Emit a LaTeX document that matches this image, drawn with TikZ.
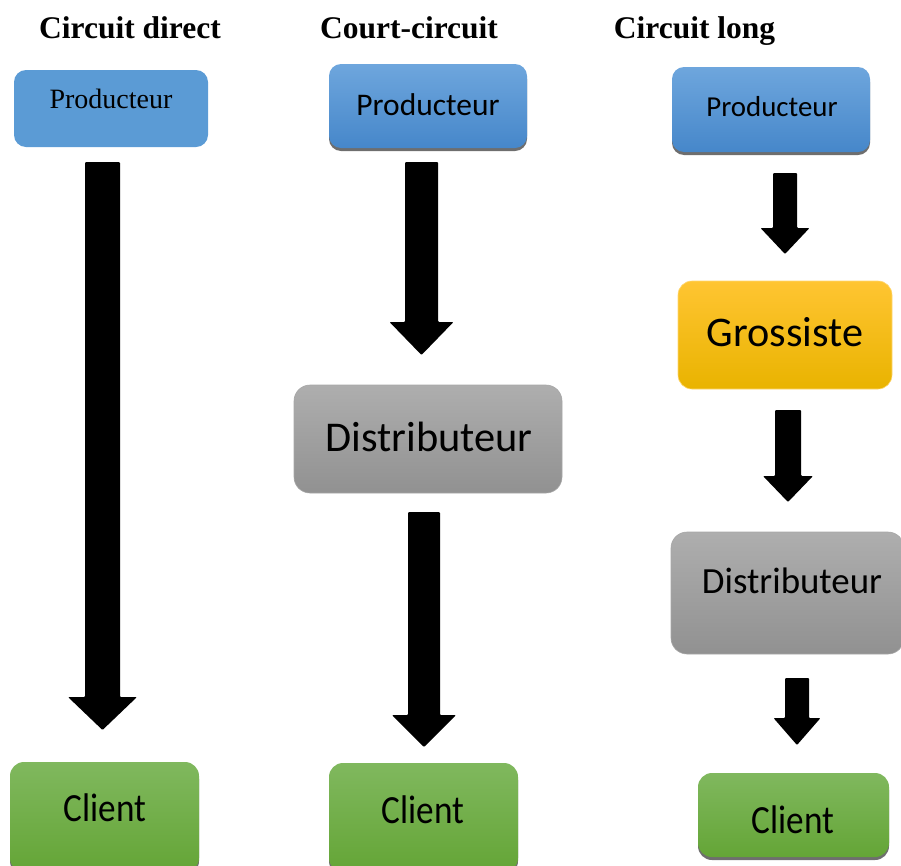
\documentclass[tikz,border=0pt]{standalone}
\usepackage{fontspec}
\setmainfont{Liberation Serif}
\newfontfamily\carlito{Carlito}
\usetikzlibrary{shadows,calc}

\definecolor{blueflat}{HTML}{5B9BD5}
\definecolor{bluetop}{HTML}{6EA6DD}
\definecolor{bluebot}{HTML}{4687CA}
\definecolor{graytop}{HTML}{AEAEAE}
\definecolor{graybot}{HTML}{919191}
\definecolor{goldtop}{HTML}{FFC532}
\definecolor{goldbot}{HTML}{E9B300}
\definecolor{greentop}{HTML}{80B85E}
\definecolor{greenbot}{HTML}{64A536}
\definecolor{shadowgray}{HTML}{5E5E5E}

\tikzset{
  boxbase/.style={inner sep=0pt, outer sep=0pt, rounded corners=12pt},
  boxshadow/.style={drop shadow={shadow xshift=0pt, shadow yshift=-3pt,
      fill=shadowgray, opacity=0.9}},
  prodflat/.style={boxbase, fill=blueflat},
  prodbox/.style={boxbase, boxshadow, top color=bluetop, bottom color=bluebot},
  distbox/.style={boxbase, rounded corners=16pt, top color=graytop,
      bottom color=graybot, draw=graybot!80!white, line width=0.6pt},
  grosbox/.style={boxbase, rounded corners=14pt, top color=goldtop,
      bottom color=goldbot, draw=goldtop!70!white, line width=0.6pt},
  clientbox/.style={boxbase, rounded corners=14pt, boxshadow,
      top color=greentop, bottom color=greenbot},
  title/.style={font=\bfseries\fontsize{31.5}{36}\selectfont, anchor=base, inner sep=0pt},
  boxtext/.style={anchor=base, inner sep=0pt},
  blockarrow/.style={fill=black, rounded corners=1pt},
}

% rectangle box from two corners, with a named centre
\newcommand{\boxat}[4]{% style, name, corner1, corner2
  \path[#1] #3 rectangle #4;
  \coordinate (#2) at ($ #3 !0.5! #4 $);
}

% downward block arrow: centre x, top, head start, tip, shaft width, head width
\newcommand{\flowarrow}[6]{%
  \fill[blockarrow] ({#1-#5/2},#2) -- ({#1+#5/2},#2) -- ({#1+#5/2},#3)
    -- ({#1+#6/2},#3) -- (#1,#4) -- ({#1-#6/2},#3) -- ({#1-#5/2},#3) -- cycle;
}

\begin{document}
\begin{tikzpicture}[x=1pt,y=-1pt]
\useasboundingbox (0,0) rectangle (901,865);

% column titles
\node[title] (t1) at (130,38) {Circuit direct};
\node[title] (t2) at (409,38) {Court-circuit};
\node[title] (t3) at (694.5,38) {Circuit long};

% --- circuit direct
\boxat{prodflat}{p1}{(14,70)}{(208,147)}
\node[boxtext, font=\fontsize{28}{32}\selectfont] at (111,108) {Producteur};
\flowarrow{102.5}{162}{697}{730}{35}{69}
\boxat{clientbox}{c1}{(10,762)}{(199,872)}
\node[boxtext, font=\carlito\fontsize{40}{44}\selectfont, xscale=0.88] at (105,821) {Client};

% --- court-circuit
\boxat{prodbox}{p2}{(329,64)}{(527,148)}
\node[boxtext, font=\carlito\fontsize{31.5}{36}\selectfont] at (428,115) {Producteur};
\flowarrow{421.5}{162}{322}{355}{33}{64}
\boxat{distbox}{d2}{(294,385)}{(562,493)}
\node[boxtext, font=\carlito\fontsize{42.4}{46}\selectfont] at (429,451) {Distributeur};
\flowarrow{424}{512}{715}{747}{32}{64}
\boxat{clientbox}{c2}{(329,763)}{(518,872)}
\node[boxtext, font=\carlito\fontsize{40}{44}\selectfont, xscale=0.88] at (423,823) {Client};

% --- circuit long
\boxat{prodbox}{p3}{(672,67)}{(870,152)}
\node[boxtext, font=\carlito\fontsize{28.9}{33}\selectfont] at (772,116) {Producteur};
\flowarrow{785}{173}{228}{254}{24}{49}
\boxat{grosbox}{g3}{(678,281)}{(892,389)}
\node[boxtext, font=\carlito\fontsize{42.2}{46}\selectfont] at (785,346) {Grossiste};
\flowarrow{788}{410}{476}{502}{26}{50}
\boxat{distbox}{d3}{(671,532)}{(904,654)}
\node[boxtext, font=\carlito\fontsize{36.9}{40}\selectfont] at (792,593) {Distributeur};
\flowarrow{797}{678}{718}{745}{24}{47}
\boxat{clientbox}{c3}{(698,773)}{(889,857)}
\node[boxtext, font=\carlito\fontsize{40}{44}\selectfont, xscale=0.88] at (793,833) {Client};
\end{tikzpicture}
\end{document}
